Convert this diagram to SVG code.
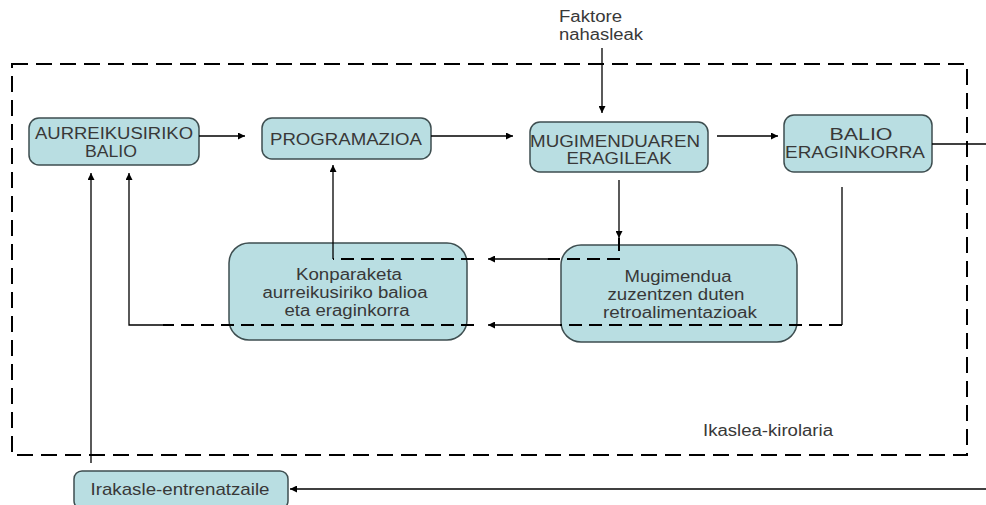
<svg xmlns="http://www.w3.org/2000/svg" width="986" height="505" viewBox="0 0 986 505">
<defs>
<marker id="ah" viewBox="0 0 10 10" refX="10" refY="5" markerWidth="9" markerHeight="7" markerUnits="userSpaceOnUse" orient="auto">
<path d="M0,0 L10,5 L0,10 Z" fill="#000"/>
</marker>
<style>
.box{fill:#b9dee2;stroke:#3e4e50;stroke-width:1.5}
.t{font-family:"Liberation Sans",Arial,sans-serif;font-size:16px;fill:#383838;text-anchor:middle}
.ts{font-family:"Liberation Sans",Arial,sans-serif;font-size:16px;fill:#383838}
.c{fill:none;stroke:#000;stroke-width:1.3}
.ca{fill:none;stroke:#000;stroke-width:1.3;marker-end:url(#ah)}
.d{fill:none;stroke:#000;stroke-width:2;stroke-dasharray:13 7}
.frame{fill:none;stroke:#000;stroke-width:2;stroke-dasharray:16 8}
</style>
</defs>
<rect width="986" height="505" fill="#fff"/>
<rect class="frame" x="12" y="64" width="955" height="391"/>
<text class="ts" x="703" y="436" textLength="130" lengthAdjust="spacingAndGlyphs">Ikaslea-kirolaria</text>
<g id="faktore">
<text class="ts" x="559" y="22" textLength="63" lengthAdjust="spacingAndGlyphs">Faktore</text>
<text class="ts" x="559" y="40" textLength="84" lengthAdjust="spacingAndGlyphs">nahasleak</text>
</g>
<g id="aurreikusiriko">
<rect class="box" x="29" y="118" width="170" height="47" rx="10"/>
<text class="t" x="114" y="139" textLength="158" lengthAdjust="spacingAndGlyphs">AURREIKUSIRIKO</text>
<text class="t" x="111" y="157" textLength="52" lengthAdjust="spacingAndGlyphs">BALIO</text>
</g>
<g id="programazioa">
<rect class="box" x="262" y="118" width="169" height="41" rx="10"/>
<text class="t" x="346" y="145" textLength="152" lengthAdjust="spacingAndGlyphs">PROGRAMAZIOA</text>
</g>
<g id="mugimenduaren">
<rect class="box" x="530" y="122" width="178" height="50" rx="10"/>
<text class="t" x="615" y="147" textLength="170" lengthAdjust="spacingAndGlyphs">MUGIMENDUAREN</text>
<text class="t" x="619" y="164" textLength="105" lengthAdjust="spacingAndGlyphs">ERAGILEAK</text>
</g>
<g id="balio">
<rect class="box" x="784" y="115" width="148" height="57" rx="10"/>
<text class="t" x="861" y="140" textLength="63" lengthAdjust="spacingAndGlyphs">BALIO</text>
<text class="t" x="855" y="158" textLength="140" lengthAdjust="spacingAndGlyphs">ERAGINKORRA</text>
</g>
<g id="konparaketa">
<rect class="box" x="229" y="243" width="238" height="97" rx="20"/>
<text class="t" x="349" y="280" textLength="106" lengthAdjust="spacingAndGlyphs">Konparaketa</text>
<text class="t" x="345" y="298" textLength="165" lengthAdjust="spacingAndGlyphs">aurreikusiriko balioa</text>
<text class="t" x="347" y="316" textLength="125" lengthAdjust="spacingAndGlyphs">eta eraginkorra</text>
</g>
<g id="mugimendua">
<rect class="box" x="561" y="245" width="236" height="97" rx="20"/>
<text class="t" x="678" y="282" textLength="107" lengthAdjust="spacingAndGlyphs">Mugimendua</text>
<text class="t" x="676" y="300" textLength="137" lengthAdjust="spacingAndGlyphs">zuzentzen duten</text>
<text class="t" x="680" y="318" textLength="154" lengthAdjust="spacingAndGlyphs">retroalimentazioak</text>
</g>
<g id="irakasle">
<rect class="box" x="74" y="471" width="214" height="38" rx="8"/>
<text class="t" x="180" y="495" style="font-size:17px" textLength="179" lengthAdjust="spacingAndGlyphs">Irakasle-entrenatzaile</text>
</g>
<g id="connectors">
<path class="ca" d="M199,136 H245"/>
<path class="ca" d="M431,136 H513"/>
<path class="ca" d="M717,136 H778"/>
<path class="ca" d="M602,48 V113"/>
<path class="c" d="M932,144 H986"/>
<path class="ca" d="M986,489 H290"/>
<path class="ca" d="M91,463 V173"/>
<path class="ca" d="M619,180 V238"/>
<path class="d" d="M619,238 V259 H548"/>
<path class="ca" d="M548,259 H488"/>
<path class="d" d="M474,259 H333"/>
<path class="ca" d="M333,259 V165"/>
<path class="c" d="M842,187 V325"/>
<path class="d" d="M842,325 H560"/>
<path class="ca" d="M560,325 H488"/>
<path class="d" d="M474,325 H163"/>
<path class="ca" d="M163,325 H129 V173"/>
</g>
</svg>
